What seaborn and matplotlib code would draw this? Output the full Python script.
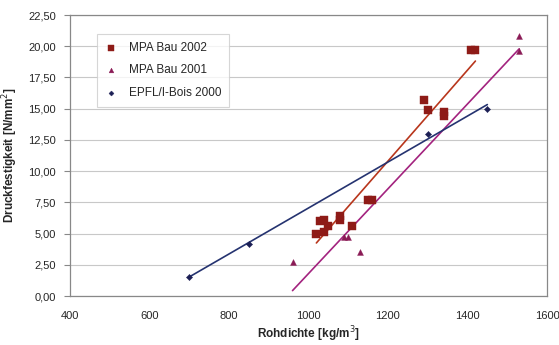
import numpy as np
import pandas as pd
import seaborn as sns
import matplotlib
matplotlib.use('Agg')
import matplotlib.pyplot as plt
from matplotlib.ticker import FuncFormatter

# MPA Bau 2002
rho_2002 = [1020, 1030, 1040, 1040, 1050, 1080, 1080, 1110, 1150, 1160, 1290, 1300, 1340, 1340, 1410, 1420]
fc_2002 = [5.0, 6.0, 6.1, 5.15, 5.6, 6.4, 6.1, 5.6, 7.7, 7.7, 15.7, 14.9, 14.7, 14.4, 19.7, 19.7]
# MPA Bau 2001
rho_2001 = [960, 1090, 1100, 1130, 1530, 1530]
fc_2001 = [2.7, 4.75, 4.75, 3.55, 20.85, 19.65]
# EPFL/I-Bois 2000
rho_2000 = [700, 850, 1300, 1450]
fc_2000 = [1.5, 4.2, 13.0, 15.0]

series = [
    ('MPA Bau 2002', rho_2002, fc_2002, 's', 30, '#8e1b17', '#b8361c'),
    ('MPA Bau 2001', rho_2001, fc_2001, '^', 18, '#8a1a55', '#a3237f'),
    ('EPFL/I-Bois 2000', rho_2000, fc_2000, 'D', 10, '#1c1f55', '#253370'),
]

sns.set_style('white')
plt.rcParams['font.family'] = ['Liberation Sans', 'DejaVu Sans']

fig = plt.figure(figsize=(5.59, 3.45), dpi=100)
ax = fig.add_axes([0.125, 0.142, 0.8535, 0.8145])

for label, x, y, marker, size, mcol, lcol in series:
    df = pd.DataFrame({'x': x, 'y': y})
    sns.regplot(data=df, x='x', y='y', scatter=False, ci=None, truncate=True,
                line_kws={'color': lcol, 'lw': 1.2}, ax=ax)
    sns.scatterplot(data=df, x='x', y='y', marker=marker, s=size, color=mcol,
                    edgecolor=mcol, linewidth=0.3, label=label, ax=ax, zorder=3)

ax.set_xlim(400, 1600)
ax.set_ylim(0, 22.5)
ax.set_xticks(np.arange(400, 1601, 200))
ax.set_yticks(np.arange(0, 22.51, 2.5))
ax.yaxis.set_major_formatter(FuncFormatter(lambda v, p: f'{v:.2f}'.replace('.', ',')))
ax.grid(axis='y', color='#c8c8c8', lw=0.8)
ax.grid(axis='x', visible=False)
for s in ax.spines.values():
    s.set_color('#888888')
    s.set_linewidth(0.9)
ax.tick_params(axis='both', labelsize=8, color='#888888', length=4, direction='out')
ax.tick_params(axis='x', pad=11, length=0)
ax.tick_params(axis='y', pad=6, left=True)

ax.set_xlabel('Rohdichte [kg/m$^3$]', fontsize=8.5, fontweight='bold', labelpad=2)
ax.set_ylabel('Druckfestigkeit [N/mm$^2$]', fontsize=8.5, fontweight='bold', labelpad=6)

leg = ax.legend(loc='upper left', bbox_to_anchor=(0.044, 0.955), fontsize=8.5,
                frameon=True, fancybox=False, borderpad=0.7, labelspacing=0.9,
                handletextpad=1.0, handlelength=1.0, markerscale=0.8)
leg.get_frame().set_edgecolor('#cccccc')
leg.get_frame().set_linewidth(0.8)

fig.savefig('out.png', dpi=100)
